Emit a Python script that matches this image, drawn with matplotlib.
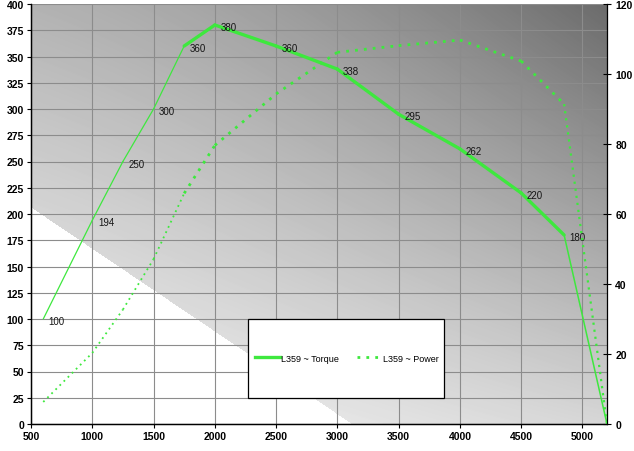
import numpy as np
import matplotlib.pyplot as plt
from matplotlib.lines import Line2D
from matplotlib.patches import Rectangle

plt.rcParams['font.family'] = ['Liberation Sans', 'DejaVu Sans']
plt.rcParams['font.weight'] = 'bold'

rpm = [600, 1000, 1250, 1500, 1750, 2000, 2500, 3000, 3500, 4000, 4500, 4850, 5200]
torque = [100, 194, 250, 300, 360, 380, 360, 338, 295, 262, 220, 180, 0]
power = [6.3, 20.3, 32.7, 47.1, 65.9, 79.6, 94.3, 106.2, 108.1, 109.7, 103.7, 91.4, 0]
torque_labels = ['100', '194', '250', '300', '360', '380', '360', '338', '295', '262', '220', '180', '']
x_ticks = list(range(500, 5001, 500))
y_ticks = list(range(0, 401, 25))
y2_ticks = list(range(0, 121, 20))

green = '#3ee83e'
dots = (0, (1, 2.2))
# segment widths (thin at the start, heavy in the middle like the excel render)
seg_lw = [0.9, 0.9, 0.9, 0.9, 2.4, 2.4, 2.4, 2.4, 2.4, 2.4, 2.4, 1.1]
pow_lw = [1.3, 1.3, 1.3, 1.3, 2.0, 2.0, 2.0, 2.0, 2.0, 2.0, 2.0, 1.6]

fig = plt.figure(figsize=(6.34, 4.52), dpi=100)
ax = fig.add_axes([31 / 634, 27 / 452, 576 / 634, 420 / 452])
ax2 = ax.twinx()

# grey gradient background with the white wedge bottom-left
h, w = 420, 576
u = np.linspace(0, 1, w)[None, :]
v = np.linspace(1, 0, h)[:, None]
bg = 0.97 - 0.27 * v - 0.13 * u - 0.15 * (u ** 2) * v
bg = np.where(v < 0.515 - 0.926 * u, 1.0, bg)
ax.imshow(bg, cmap='gray', vmin=0, vmax=1, extent=[0, 1, 0, 1],
          transform=ax.transAxes, aspect='auto', zorder=0, interpolation='bilinear')

ax.set_xlim(500, 5200)
ax.set_ylim(0, 400)
ax2.set_ylim(0, 120)
ax.set_xticks(x_ticks)
ax.set_yticks(y_ticks)
ax2.set_yticks(y2_ticks)
ax.set_axisbelow(True)
ax.grid(color='#8c8c8c', lw=0.8)

for i in range(len(rpm) - 1):
    ax.plot(rpm[i:i + 2], torque[i:i + 2], color=green, lw=seg_lw[i],
            solid_capstyle='round', zorder=3)
    ax2.plot(rpm[i:i + 2], power[i:i + 2], color=green, lw=pow_lw[i],
             linestyle=dots, dash_capstyle='butt', zorder=3)

for x, y, t in zip(rpm, torque, torque_labels):
    if t:
        ax.annotate(t, (x, y), xytext=(4, -1.5), textcoords='offset points',
                    ha='left', va='center', fontsize=7, fontweight='normal',
                    color='#151515', zorder=4)

for a in (ax, ax2):
    a.spines['top'].set_visible(False)
    for s in a.spines.values():
        s.set_linewidth(0.9)
ax.spines['right'].set_visible(False)
ax.tick_params(axis='both', direction='out', length=3, width=0.8, labelsize=7.5, pad=2)
ax2.tick_params(axis='y', direction='inout', length=6, width=0.8, labelsize=7.5, pad=3)
for lbl in ax.get_xticklabels() + ax.get_yticklabels() + ax2.get_yticklabels():
    lbl.set_fontweight('heavy')

# legend box
ax2.add_patch(Rectangle((0.377, 0.062), 0.34, 0.188, transform=ax2.transAxes,
                        facecolor='white', edgecolor='black', lw=0.9, zorder=6))
handles = [Line2D([], [], color=green, lw=2.4),
           Line2D([], [], color=green, lw=2.0, linestyle=dots, dash_capstyle='butt')]
leg = ax2.legend(handles, ['L359 ~ Torque', 'L359 ~ Power'], ncol=2, loc='center',
                 bbox_to_anchor=(0.549, 0.157), frameon=False, borderpad=0,
                 prop={'size': 6.5, 'weight': 'normal'}, handlelength=2.8,
                 handletextpad=0.1, columnspacing=2.0)
leg.set_zorder(7)

fig.savefig('out.png', dpi=100)
